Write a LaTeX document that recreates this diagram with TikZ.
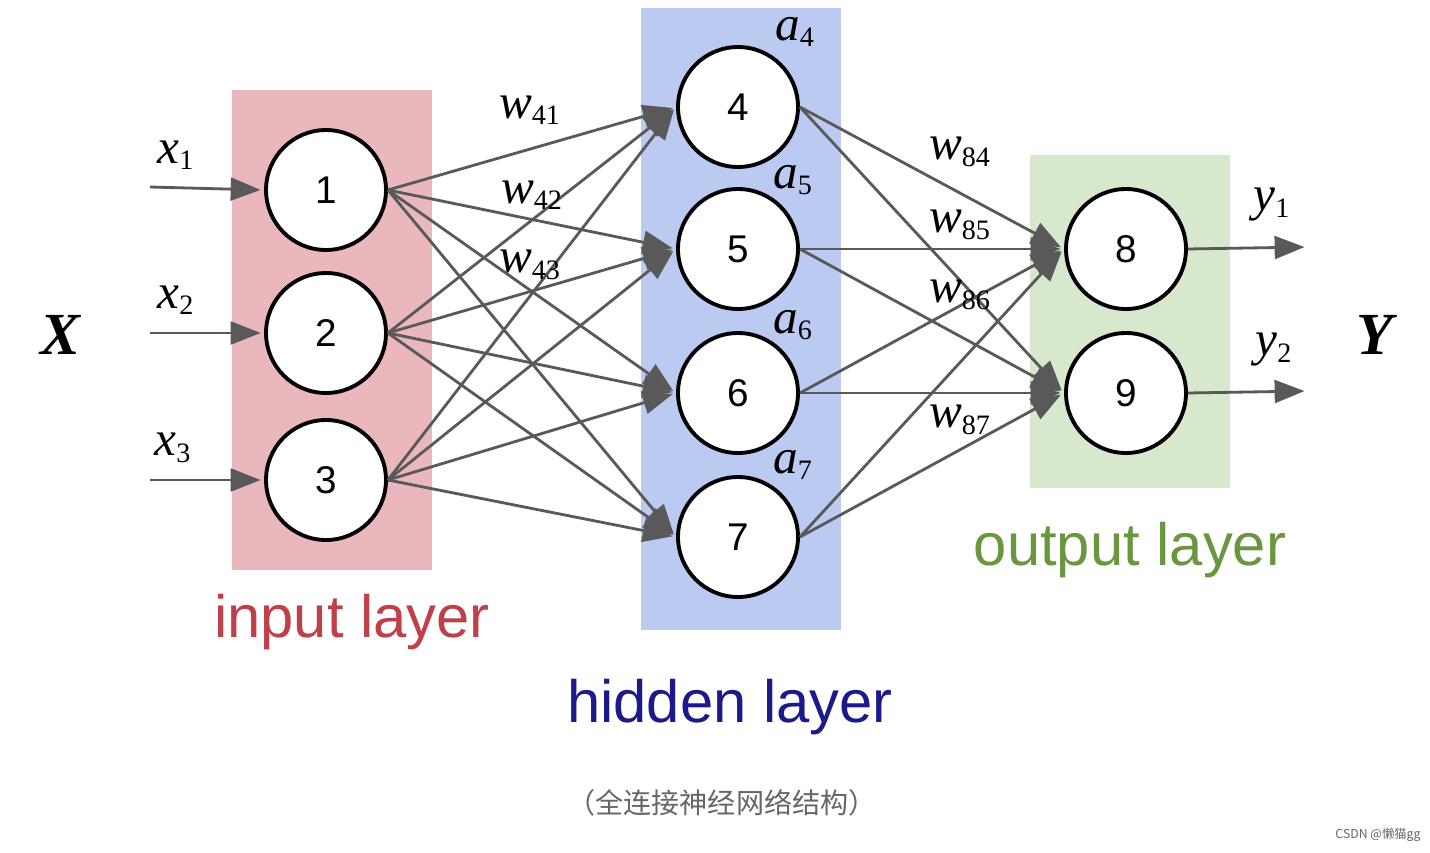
\documentclass[tikz,border=0pt]{standalone}
\usepackage{fontspec}
\setmainfont{Liberation Serif}
\newfontfamily\sans{Liberation Sans}
\newfontfamily\cjk{Noto Sans CJK SC}
\usetikzlibrary{arrows.meta}
\definecolor{inbg}{RGB}{234,184,188}
\definecolor{hidbg}{RGB}{186,202,240}
\definecolor{outbg}{RGB}{216,232,204}
\definecolor{intx}{RGB}{192,64,74}
\definecolor{hidtx}{RGB}{26,26,138}
\definecolor{outtx}{RGB}{106,150,64}
\newcommand{\lb}[2]{\textit{#1}\textsubscript{\fontsize{16}{16}\selectfont #2}}
\begin{document}
\begin{tikzpicture}[x=0.02cm,y=-0.02cm,
  neuron/.style={circle,draw=black,line width=2.2pt,fill=white,minimum size=2.4cm,inner sep=0pt,font=\sans\fontsize{22}{22}\selectfont},
  conn/.style={draw=black!65,line width=1.6pt,-{Triangle[length=17pt,width=13pt]},shorten >=2pt},
  lab/.style={font=\fontsize{28}{28}\selectfont},
  layer/.style={font=\sans\fontsize{34}{34}\selectfont}]
\useasboundingbox (0,0) rectangle (1430,852);
\fill[white] (0,0) rectangle (1430,852);
\fill[inbg] (232,90) rectangle (432,570);
\fill[hidbg] (641,8) rectangle (841,630);
\fill[outbg] (1030,155) rectangle (1230,488);
\foreach \n/\x/\y in {1/326/190,2/326/333,3/326/480,4/738/107,5/738/249,6/738/393,7/738/537,8/1126/249,9/1126/393}
  \node[neuron] (n\n) at (\x,\y) {\n};
\foreach \i in {1,2,3} \foreach \j in {4,5,6,7} \draw[conn] (n\i.east) -- (n\j.west);
\foreach \i in {4,5,6,7} \foreach \j in {8,9} \draw[conn] (n\i.east) -- (n\j.west);
\coordinate (i1) at (150,187); \coordinate (i2) at (150,333); \coordinate (i3) at (150,480);
\coordinate (o1) at (1308,247); \coordinate (o2) at (1308,391);
\draw[conn] (i1) -- (n1.west); \draw[conn] (i2) -- (n2.west); \draw[conn] (i3) -- (n3.west);
\draw[conn] (n8.east) -- (o1); \draw[conn] (n9.east) -- (o2);
\node[lab] (lx1) at (176,155) {\lb{x}{1}};
\node[lab] (lx2) at (176,300) {\lb{x}{2}};
\node[lab] (lx3) at (173,448) {\lb{x}{3}};
\node[font=\fontsize{34}{34}\selectfont\bfseries\itshape] (lX) at (60,335) {X};
\node[font=\fontsize{34}{34}\selectfont\bfseries\itshape] (lY) at (1375,335) {Y};
\node[lab] (ly1) at (1272,205) {\lb{y}{1}};
\node[lab] (ly2) at (1274,350) {\lb{y}{2}};
\foreach \t/\x/\y in {41/530/110,42/532/195,43/530/265,84/960/152,85/960/225,86/960/295,87/960/420}
  \node[lab] (w\t) at (\x,\y) {\lb{w}{\t}};
\foreach \t/\x/\y in {4/795/32,5/793/180,6/793/325,7/793/465}
  \node[lab] (a\t) at (\x,\y) {\lb{a}{\t}};
\node[layer,text=intx] (tin) at (352,622) {input layer};
\node[layer,text=hidtx] (thid) at (730,707) {hidden layer};
\node[layer,text=outtx] (tout) at (1130,550) {output layer};
\node[font=\cjk\fontsize{16}{16}\selectfont,text=black!60] (cap) at (722,803) {（全连接神经网络结构）};
\node[font=\cjk\fontsize{7}{7}\selectfont,text=black!60] (csdn) at (1378,835) {CSDN @懒猫gg};
\end{tikzpicture}
\end{document}
